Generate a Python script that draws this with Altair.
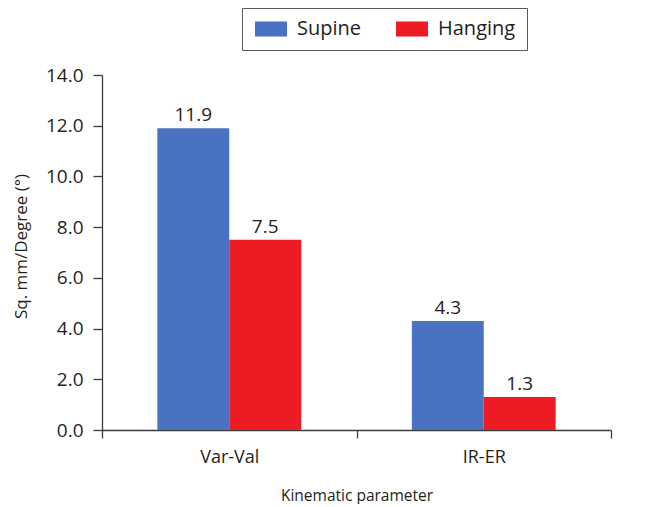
import altair as alt
import pandas as pd

categories = ["Var-Val", "IR-ER"]
series_names = ["Supine", "Hanging"]
supine = [11.9, 4.3]
hanging = [7.5, 1.3]
colors = ["#4A72C3", "#ED1C24"]
y_ticks = [0, 2, 4, 6, 8, 10, 12, 14]

rows = []
for i, c in enumerate(categories):
    rows.append({"param": c, "position": series_names[0], "value": supine[i]})
    rows.append({"param": c, "position": series_names[1], "value": hanging[i]})
df = pd.DataFrame(rows)

FONT = "Open Sans"
TXT = "#231F20"
AX = "#3C3C3C"

x = alt.X(
    "param:N", sort=categories, title="Kinematic parameter",
    scale=alt.Scale(paddingInner=0, paddingOuter=0),
    axis=alt.Axis(labelAngle=0, tickBand="extent", tickSize=8, labelPadding=10,
                  labelFontSize=18, labelFont=FONT, labelColor=TXT,
                  titleFont=FONT, titleFontSize=15.5, titleFontWeight="normal",
                  titleColor=TXT, titlePadding=22),
)
xo = alt.XOffset("position:N", sort=series_names,
                 scale=alt.Scale(paddingInner=0, paddingOuter=0.77))
y = alt.Y(
    "value:Q", title="Sq. mm/Degree (°)",
    scale=alt.Scale(domain=[0, 14], nice=False),
    axis=alt.Axis(values=y_ticks, format=".1f", grid=False, tickSize=9,
                  labelPadding=10, labelFontSize=19, labelFont=FONT, labelColor=TXT,
                  titleFont=FONT, titleFontSize=17, titleFontWeight="normal",
                  titleColor=TXT, titleAngle=270, titleX=-76, titleY=171,
                  titleBaseline="alphabetic", titleAlign="center"),
)
color = alt.Color(
    "position:N", sort=series_names,
    scale=alt.Scale(domain=series_names, range=colors),
    legend=alt.Legend(orient="none", legendX=140, legendY=-67, direction="horizontal",
                      title=None, symbolType="M-1,-0.94H3V0.94H-1Z", symbolSize=256,
                      symbolStrokeWidth=0, symbolOpacity=1, labelFontSize=20,
                      labelFont=FONT, labelColor=TXT, labelOffset=24, columnPadding=32,
                      padding=11, strokeColor="#58595B"),
)

bars = alt.Chart(df).mark_bar().encode(x=x, xOffset=xo, y=y, color=color)
labels = alt.Chart(df).mark_text(dy=-7, baseline="alphabetic", fontSize=19,
                                 font=FONT, color=TXT).encode(
    x=alt.X("param:N", sort=categories), xOffset=xo, y="value:Q",
    text=alt.Text("value:Q", format=".1f"))

chart = alt.layer(bars, labels).properties(
    width=509, height=355,
    padding={"left": 94, "top": 67, "right": 40, "bottom": 74},
    autosize="none",
).configure_view(stroke=None).configure_axis(
    domainColor=AX, tickColor=AX, domainWidth=1.3, tickWidth=1.3
)

chart.save("out.html", embed_options={"renderer": "svg", "actions": False})
